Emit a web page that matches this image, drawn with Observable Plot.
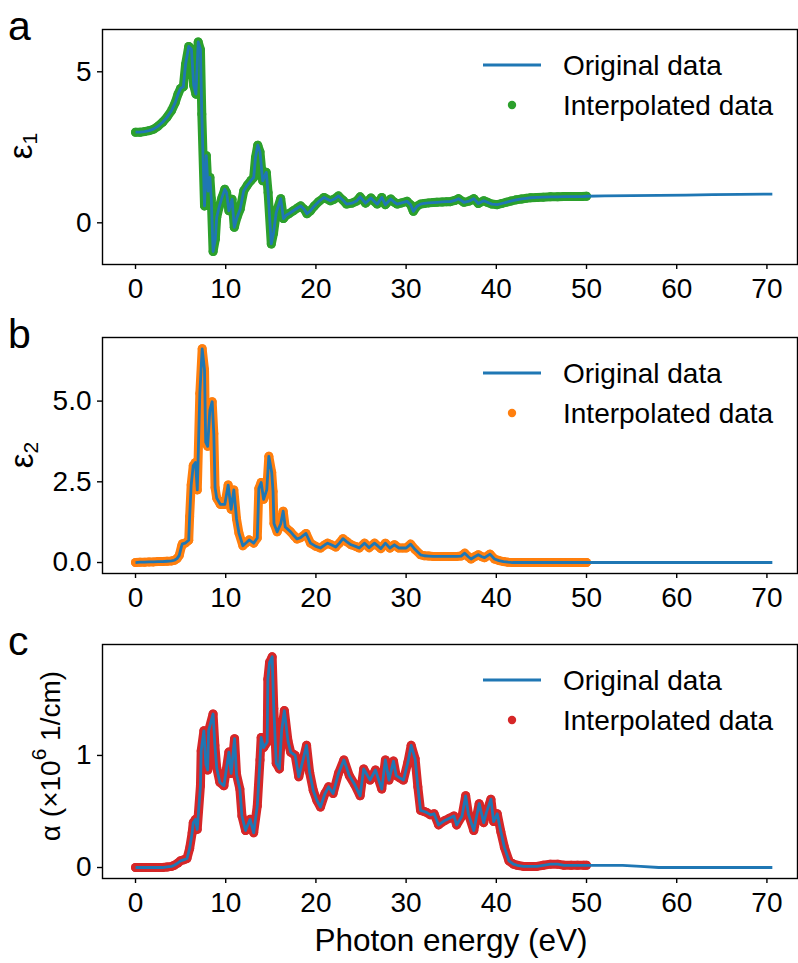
<!DOCTYPE html>
<html>
<head>
<meta charset="utf-8">
<script src="https://cdn.jsdelivr.net/npm/d3@7"></script>
<script src="https://cdn.jsdelivr.net/npm/@observablehq/plot@0.6"></script>
<style>
  html, body { margin: 0; padding: 0; background: #fff; }
  #wrap { position: relative; width: 798px; height: 963px; background: #fff; font-family: "Liberation Sans", Arial, sans-serif; }
  .panel { position: absolute; left: 0; }
  #overlay { position: absolute; left: 0; top: 0; pointer-events: none; }
</style>
</head>
<body>
<div id="wrap"></div>
<script>
// ---------------- data ----------------
const xTicks = [0, 10, 20, 30, 40, 50, 60, 70];
const seriesLabels = ["Original data", "Interpolated data"];
const panelLetters = ["a", "b", "c"];

// Panel a: real part of dielectric function
const energyA = [0,0.5,1,1.5,2,2.5,3,3.5,4,4.4,4.7,5,5.3,5.55,5.9,6.2,6.45,6.7,6.95,7.2,7.35,7.65,7.85,8.05,8.25,8.4,8.6,8.85,9,9.25,9.6,9.9,10.1,10.35,10.7,10.95,11.25,11.6,12,12.4,12.8,13.1,13.3,13.55,13.8,14.1,14.5,14.7,15.05,15.3,15.6,16.1,16.4,16.7,17,17.5,18,18.3,18.7,19,19.4,19.8,20.3,20.9,21.6,22,22.5,23,23.4,24,24.5,24.9,25.5,26.1,26.5,26.8,27.3,27.7,28.3,28.7,29,29.5,30.1,30.5,30.8,31.2,31.6,32,32.5,33,33.4,34,34.5,34.9,35.4,35.8,36.4,37,37.5,38,38.6,39,39.5,40.1,40.6,41.1,41.6,42.2,42.8,43.3,43.8,44.5,45.2,46,46.8,47.5,48.3,49,49.5,50,52,55,58,61,64,67,70.6];
const eps1 = [3.00,3.00,3.02,3.05,3.10,3.20,3.33,3.50,3.72,3.98,4.25,4.45,4.50,5.25,5.84,5.75,4.55,4.26,5.99,5.73,3.60,0.56,2.22,1.05,1.50,0.80,-0.95,-0.54,0.18,0.50,0.85,1.11,1.00,0.40,0.78,-0.15,0.18,0.45,1.06,1.25,1.40,1.50,2.16,2.57,2.35,1.39,1.67,1.00,-0.70,-0.35,0.34,0.80,0.14,0.25,0.30,0.40,0.50,0.56,0.45,0.30,0.40,0.55,0.70,0.84,0.73,0.78,0.89,0.75,0.62,0.65,0.72,0.86,0.65,0.82,0.70,0.62,0.84,0.60,0.79,0.68,0.62,0.66,0.71,0.60,0.38,0.55,0.62,0.64,0.66,0.67,0.68,0.69,0.70,0.70,0.74,0.80,0.68,0.72,0.80,0.64,0.73,0.68,0.62,0.60,0.64,0.68,0.72,0.76,0.79,0.81,0.83,0.84,0.85,0.86,0.86,0.87,0.87,0.87,0.87,0.88,0.89,0.90,0.91,0.92,0.93,0.94,0.95];

// Panel b: imaginary part of dielectric function
const energyB = [0,0.5,1,1.5,2,2.5,3,3.5,4,4.3,4.6,4.85,5.1,5.2,5.5,5.9,6,6.17,6.4,6.65,6.85,7.13,7.39,7.65,7.78,8,8.24,8.5,8.68,8.82,9,9.4,9.9,10.27,10.6,10.9,11.2,11.46,11.9,12.3,12.6,13.1,13.5,13.67,13.93,14.2,14.55,14.78,15.1,15.25,15.35,15.7,16.1,16.37,16.6,17.2,17.6,17.9,18.3,18.9,19.4,20,20.5,21,21.3,21.7,22.2,22.6,23,23.4,23.9,24.4,24.8,25.4,25.9,26.5,27.2,27.7,28.2,28.7,29.2,29.6,30,30.5,31,31.6,32,32.5,33,33.5,34,34.5,35,35.6,36.1,36.5,36.9,37.2,37.6,38,38.4,38.7,39.3,39.8,40.3,40.8,41.3,41.8,42.5,43.2,43.9,44.6,45.3,46,46.7,47.4,48.1,48.8,49.5,50,54,58,62,66,70.6];
const eps2 = [0,0.01,0.01,0.02,0.02,0.03,0.03,0.04,0.05,0.07,0.12,0.22,0.50,0.58,0.60,0.69,1.42,2.40,3.00,3.10,2.25,5.24,6.62,5.97,3.73,3.60,4.72,4.98,3.99,2.32,2.00,1.80,1.80,2.40,1.65,2.25,1.35,0.92,0.52,0.62,0.70,0.60,0.76,2.29,2.48,1.96,2.25,3.29,2.79,2.20,1.21,0.95,1.20,1.59,1.10,0.95,0.82,0.73,0.77,0.90,0.60,0.50,0.45,0.55,0.60,0.55,0.48,0.60,0.74,0.65,0.55,0.50,0.45,0.60,0.46,0.60,0.43,0.60,0.45,0.55,0.45,0.45,0.45,0.57,0.40,0.24,0.21,0.20,0.19,0.19,0.19,0.19,0.19,0.19,0.20,0.29,0.18,0.11,0.18,0.24,0.18,0.15,0.26,0.11,0.06,0.03,0.01,
  0.00,0.00,0.00,0.00,0.00,0.00,0.00,0.00,0.00,0.00,0.00,0.00,0.00,0.00,0.00,0.00,0.00,0.00];

// Panel c: absorption coefficient (x10^6 1/cm)
const energyC = [0,0.5,1,1.5,2,2.5,3,3.5,4,4.3,4.7,5,5.4,5.7,6,6.28,6.4,6.65,6.84,7.2,7.28,7.58,7.8,8,8.1,8.6,8.8,9,9.35,9.8,10.35,10.6,10.98,11.2,11.57,11.8,12.2,12.7,13.1,13.5,13.8,13.93,14.2,14.6,14.67,14.86,15.15,15.33,15.6,15.95,16.2,16.5,16.9,17.2,17.7,18.1,18.6,18.96,19.3,19.7,20.1,20.5,21,21.4,21.9,22.5,23.1,23.7,24.3,24.9,25.3,26,26.6,27.3,27.7,28.1,28.6,28.9,29.3,29.7,30.2,30.56,31,31.3,31.6,32,32.3,32.7,33.1,33.6,34.3,34.8,35.3,35.6,36.2,36.6,36.9,37.5,38.1,38.6,38.9,39.4,39.7,40.1,40.5,40.9,41.4,41.9,42.3,43,43.8,44.5,45.2,46,46.8,47.5,48.3,49,49.7,50,52,54,56,58,62,66,70.6];
const alpha = [0,0,0,0,0,0,0,0.005,0.01,0.02,0.04,0.06,0.07,0.08,0.17,0.31,0.40,0.43,0.34,0.73,1.04,1.22,0.92,0.87,1.22,1.37,1.09,0.89,0.76,0.73,1.03,0.84,1.15,0.83,0.70,0.46,0.33,0.43,0.31,0.55,0.96,1.16,1.07,1.12,1.68,1.83,1.88,1.42,0.93,0.88,1.22,1.40,1.13,1.03,1.00,0.81,0.97,1.09,0.85,0.69,0.60,0.54,0.66,0.72,0.66,0.84,0.96,0.82,0.74,0.64,0.88,0.78,0.87,0.70,0.96,0.78,0.95,0.82,0.80,0.78,0.94,1.09,0.97,0.72,0.51,0.50,0.49,0.47,0.48,0.38,0.42,0.44,0.46,0.38,0.46,0.64,0.48,0.33,0.57,0.40,0.49,0.61,0.41,0.48,0.32,0.18,0.06,0.03,0.02,0.01,0.01,0.01,0.02,0.03,0.03,0.02,0.02,0.02,0.02,0.02,0.02,0.02,0.01,0.00,0.00,0.00,0.00];

const interpMax = 50;   // interpolated data spans 0–50 eV

// ---------------- drawing ----------------
const FONT = '"Liberation Sans", Arial, Helvetica, sans-serif';
const lineColor = "#1f77b4";
const wrap = document.getElementById("wrap");
const xDomain = [-3.66, 73.39];
const dotR = 4.5;

function zip(xs, ys) {
  const n = Math.min(xs.length, ys.length);
  const out = [];
  for (let i = 0; i < n; i++) out.push({e: xs[i], v: ys[i]});
  return out;
}

const panels = [
  {E: energyA, V: eps1, dot: "#2ca02c", top: 0, height: 310, mt: 29, mb: 46, yDomain: [-1.38, 6.4], yTicks: [0, 5], fmt: d3.format("d")},
  {E: energyB, V: eps2, dot: "#ff7f0e", top: 310, height: 310, mt: 27, mb: 47, yDomain: [-0.34, 6.97], yTicks: [0, 2.5, 5], fmt: d3.format(".1f")},
  {E: energyC, V: alpha, dot: "#d62728", top: 620, height: 343, mt: 24, mb: 85, yDomain: [-0.098, 1.99], yTicks: [0, 1], fmt: d3.format("d")}
];

panels.forEach(p => {
  const data = zip(p.E, p.V);
  const dots = data.filter(d => d.e <= interpMax);
  const chart = Plot.plot({
    width: 798,
    height: p.height,
    marginLeft: 102,
    marginRight: 1,
    marginTop: p.mt,
    marginBottom: p.mb,
    style: {fontFamily: FONT, fontSize: "28px", color: "black", background: "transparent", overflow: "visible"},
    x: {domain: xDomain},
    y: {domain: p.yDomain},
    marks: [
      // dense interpolated samples render as a continuous band of overlapping dots
      Plot.line(dots, {x: "e", y: "v", stroke: p.dot, strokeWidth: dotR * 2, strokeLinejoin: "round", strokeLinecap: "round"}),
      Plot.dot(dots, {x: "e", y: "v", r: dotR, fill: p.dot, stroke: "none"}),
      Plot.line(data, {x: "e", y: "v", stroke: lineColor, strokeWidth: 2.8, strokeLinejoin: "round", strokeLinecap: "butt"}),
      Plot.frame({stroke: "black", strokeWidth: 1.4}),
      Plot.axisX({ticks: xTicks, tickSize: 5, tickPadding: 9, strokeWidth: 1.4, label: null, fontSize: 28, tickFormat: d3.format("d")}),
      Plot.axisY({ticks: p.yTicks, tickSize: 5, tickPadding: 6, strokeWidth: 1.4, label: null, fontSize: 28, tickFormat: p.fmt})
    ]
  });
  chart.classList.add("panel");
  chart.style.top = p.top + "px";
  wrap.appendChild(chart);
});

// ---------------- annotations (letters, axis titles, legends) ----------------
const NS = "http://www.w3.org/2000/svg";
const ov = document.createElementNS(NS, "svg");
ov.setAttribute("id", "overlay");
ov.setAttribute("width", 798);
ov.setAttribute("height", 963);
ov.setAttribute("font-family", FONT);
wrap.appendChild(ov);

function txt(parent, x, y, s, size, attrs = {}) {
  const t = document.createElementNS(NS, "text");
  t.setAttribute("x", x); t.setAttribute("y", y);
  t.setAttribute("font-size", size);
  t.setAttribute("fill", "black");
  for (const k in attrs) t.setAttribute(k, attrs[k]);
  if (s !== null) t.textContent = s;
  parent.appendChild(t);
  return t;
}
function tspan(parent, s, attrs) {
  const t = document.createElementNS(NS, "tspan");
  for (const k in attrs) t.setAttribute(k, attrs[k]);
  t.textContent = s;
  parent.appendChild(t);
  return t;
}

// panel letters
const frameTops = [29, 337, 644];
const frameBottoms = [263, 573, 878];
const letterBase = [40, 348, 655];
panelLetters.forEach((L, i) => txt(ov, 8, letterBase[i], L, 41));

// y-axis titles
{
  const g = document.createElementNS(NS, "g");
  g.setAttribute("transform", `translate(32,${(frameTops[0] + frameBottoms[0]) / 2}) rotate(-90)`);
  ov.appendChild(g);
  const t = txt(g, 0, 0, null, 33, {"text-anchor": "middle"});
  tspan(t, "ε", {});
  tspan(t, "1", {"font-size": 21, dy: 5});
}
{
  const g = document.createElementNS(NS, "g");
  g.setAttribute("transform", `translate(33,${(frameTops[1] + frameBottoms[1]) / 2}) rotate(-90)`);
  ov.appendChild(g);
  const t = txt(g, 0, 0, null, 33, {"text-anchor": "middle"});
  tspan(t, "ε", {});
  tspan(t, "2", {"font-size": 21, dy: 5});
}
{
  const g = document.createElementNS(NS, "g");
  g.setAttribute("transform", `translate(60,756) rotate(-90)`);
  ov.appendChild(g);
  const t = txt(g, 0, 0, null, 28, {"text-anchor": "middle"});
  tspan(t, "α (×10", {});
  tspan(t, "6", {"font-size": 21, dy: -14});
  tspan(t, " 1/cm)", {dy: 14});
}

// x-axis title
txt(ov, 451, 951, "Photon energy (eV)", 31.5, {"text-anchor": "middle"});

// legends
panels.forEach((p, i) => {
  const T = frameTops[i];
  const l = document.createElementNS(NS, "line");
  l.setAttribute("x1", 483); l.setAttribute("x2", 541);
  l.setAttribute("y1", T + 36); l.setAttribute("y2", T + 36);
  l.setAttribute("stroke", lineColor); l.setAttribute("stroke-width", 2.8);
  ov.appendChild(l);
  const c = document.createElementNS(NS, "circle");
  c.setAttribute("cx", 512); c.setAttribute("cy", T + 76); c.setAttribute("r", 4.2);
  c.setAttribute("fill", p.dot);
  ov.appendChild(c);
  txt(ov, 563, T + 46, seriesLabels[0], 28);
  txt(ov, 563, T + 86, seriesLabels[1], 28);
});
</script>
</body>
</html>
